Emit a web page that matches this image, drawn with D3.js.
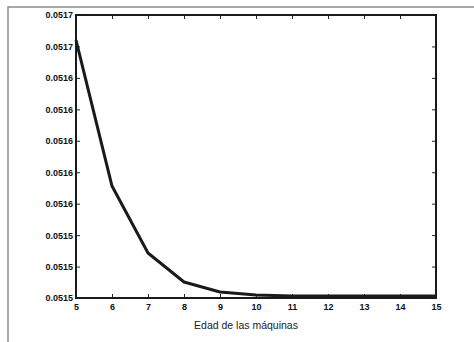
<!DOCTYPE html>
<html>
<head>
<meta charset="utf-8">
<script src="https://cdn.jsdelivr.net/npm/d3@7"></script>
<style>
  html, body { margin: 0; padding: 0; background: #fff; }
  svg { display: block; }
</style>
</head>
<body>
<svg id="chart" width="474" height="342"></svg>
<script>
// Machine age (years) and the resulting cost value
const ages = [5, 6, 7, 8, 9, 10, 11, 12, 13, 14, 15];
const costs = [0.0516640, 0.0515712, 0.0515286, 0.0515102, 0.0515038, 0.0515019,
               0.0515013, 0.0515013, 0.0515013, 0.0515013, 0.0515013];
const xTicks = [5, 6, 7, 8, 9, 10, 11, 12, 13, 14, 15];
const yTicks = [0.05150, 0.05152, 0.05154, 0.05156, 0.05158, 0.05160,
                0.05162, 0.05164, 0.05166, 0.05168];
const xLabel = "Edad de las máquinas";

const svg = d3.select("#chart");
const L = 76, R = 436, T = 15, B = 298;

const x = d3.scaleLinear().domain([5, 15]).range([L, R]);
const y = d3.scaleLinear().domain([0.05150, 0.05168]).range([B, T]);

// outer figure frame (top and left edges)
svg.append("path")
  .attr("d", `M8,342 V7 H474`)
  .attr("fill", "none")
  .attr("stroke", "#8a8a8a")
  .attr("stroke-width", 1.5);

const tickFont = "bold 9px 'Liberation Sans', Arial, sans-serif";
const fmt = d3.format(".4f");

// bottom axis with labels, inward ticks
const gx = svg.append("g").attr("transform", `translate(0,${B})`)
  .call(d3.axisBottom(x).tickValues(xTicks).tickSizeInner(-4).tickSizeOuter(0).tickPadding(7).tickFormat(d3.format("d")));
// top mirror
const gxt = svg.append("g").attr("transform", `translate(0,${T})`)
  .call(d3.axisTop(x).tickValues(xTicks).tickSizeInner(-4).tickSizeOuter(0).tickFormat(""));
// left axis with labels
const gy = svg.append("g").attr("transform", `translate(${L},0)`)
  .call(d3.axisLeft(y).tickValues(yTicks).tickSizeInner(-4).tickSizeOuter(0).tickPadding(3).tickFormat(fmt));
// right mirror
const gyr = svg.append("g").attr("transform", `translate(${R},0)`)
  .call(d3.axisRight(y).tickValues(yTicks).tickSizeInner(-4).tickSizeOuter(0).tickFormat(""));

[gx, gxt, gy, gyr].forEach(g => {
  g.select(".domain").remove();
  g.selectAll(".tick line").attr("stroke", "#222").attr("stroke-width", 1);
  g.selectAll("text").style("font", tickFont).attr("fill", "#111");
});
gx.selectAll("text").attr("dy", "0.5em");

// plot box
svg.append("rect")
  .attr("x", L).attr("y", T).attr("width", R - L).attr("height", B - T)
  .attr("fill", "none").attr("stroke", "#1a1a1a").attr("stroke-width", 2);

// data line
svg.append("path")
  .datum(ages.map((a, i) => [a, costs[i]]))
  .attr("fill", "none")
  .attr("stroke", "#1a1a1a")
  .attr("stroke-width", 3)
  .attr("stroke-linejoin", "round")
  .attr("d", d3.line().x(d => x(d[0])).y(d => y(d[1])));

// x-axis title
svg.append("text")
  .attr("x", 246).attr("y", 329)
  .attr("text-anchor", "middle")
  .style("font", "10.5px 'Liberation Sans', Arial, sans-serif")
  .attr("fill", "#222")
  .text(xLabel);
</script>
</body>
</html>
